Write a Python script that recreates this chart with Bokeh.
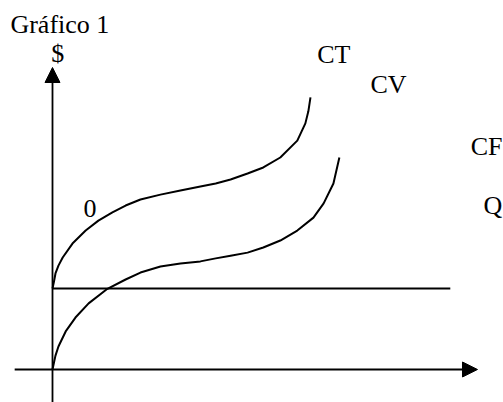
from bokeh.plotting import figure
from bokeh.models import Range1d, Arrow, NormalHead
from bokeh.core.properties import value
from bokeh.embed import file_html
from bokeh.resources import INLINE

# ---- chart content ----
title_text = "Gráfico 1"
y_axis_label = "$"
x_axis_label = "Q"
origin_label = "0"
curve_labels = ["CT", "CV", "CF"]

# Variable cost curve (CV): quantity Q and cost $
q_cv = [0.0, 0.35, 0.7, 1.4, 3.1, 5.4, 8.5, 12.7, 17.2, 20.7, 25.4, 30.1, 34.8,
        38.4, 41.9, 45.9, 49.6, 53.6, 57.6, 61.4, 63.8, 66.1, 67.5]
cv = [0.0, 2.3, 4.6, 7.6, 12.6, 17.2, 21.9, 26.5, 29.8, 32.1, 34.1, 35.1, 35.8,
      36.8, 37.7, 38.7, 40.4, 42.7, 46.0, 50.3, 55.0, 61.6, 70.2]

# Total cost curve (CT)
q_ct = [0.0, 0.35, 0.7, 1.4, 2.4, 4.7, 7.8, 10.8, 14.1, 17.2, 20.7, 25.4, 30.1,
        34.8, 38.4, 41.9, 45.9, 49.6, 53.6, 57.6, 59.5, 60.2, 60.7]
ct = [26.8, 29.1, 31.8, 34.4, 37.1, 41.7, 46.0, 49.3, 52.0, 54.3, 56.3, 57.9, 59.3,
      60.6, 61.6, 62.9, 64.9, 66.9, 70.2, 75.8, 81.5, 85.5, 90.1]

# Fixed cost (CF): constant level over Q
cf_value = 26.8
q_cf = [0.0, 93.6]

# Extents of the drawn axes (Q axis and $ axis)
q_axis_ext = [-8.9, 100.0]
cost_axis_ext = [-11.0, 100.0]

# ---- figure ----
p = figure(width=503, height=402, output_backend="svg", toolbar_location=None,
           x_range=Range1d(-12.235, 106.118), y_range=Range1d(-10.93, 122.19),
           x_axis_type=None, y_axis_type=None, min_border=0)
p.grid.visible = False
p.outline_line_color = None
p.background_fill_color = "white"
p.border_fill_color = "white"

# axes with arrow heads
p.add_layout(Arrow(x_start=q_axis_ext[0], y_start=0, x_end=q_axis_ext[1], y_end=0,
                   line_width=2, line_color="black",
                   end=NormalHead(size=15, fill_color="black", line_color="black", line_width=1)))
p.add_layout(Arrow(x_start=0, y_start=cost_axis_ext[0], x_end=0, y_end=cost_axis_ext[1],
                   line_width=1.8, line_color="black",
                   end=NormalHead(size=15, fill_color="black", line_color="black", line_width=1)))

# curves
p.line(q_cf, [cf_value] * len(q_cf), line_width=2, line_color="black")
p.line(q_cv, cv, line_width=2, line_color="black", line_join="round")
p.line(q_ct, ct, line_width=2, line_color="black", line_join="round")

font = value("Liberation Serif")
fs = "26px"

# texts (left/baseline anchored)
p.text(x=[-9.9], y=[114.3], text=[title_text], text_font=font, text_font_size=fs,
       text_align="left", text_baseline="alphabetic", text_color="black")
p.text(x=[-0.3, 101.4, 7.3], y=[104.7, 54.3, 53.4],
       text=[y_axis_label, x_axis_label, origin_label],
       text_font=font, text_font_size=fs, text_align="left",
       text_baseline="alphabetic", text_color="black")
p.text(x=[62.3, 74.8, 98.4], y=[104.4, 94.3, 73.9], text=curve_labels,
       text_font=font, text_font_size=fs, text_align="left",
       text_baseline="alphabetic", text_color="black")

open("out.html", "w").write(file_html(p, INLINE))
